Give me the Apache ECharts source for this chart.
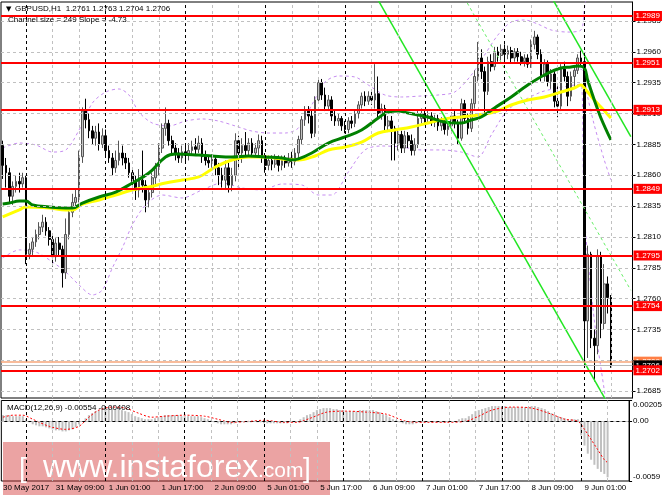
<!DOCTYPE html>
<html><head><meta charset="utf-8">
<script src="https://cdn.jsdelivr.net/npm/echarts@6.0.0/dist/echarts.min.js"></script>
<style>html,body{margin:0;padding:0;background:#fff}#c{width:665px;height:499px}</style>
</head><body><div id="c"></div>
<script>
// ---------- DATA ----------
const opens = [1.2884,1.2868,1.2862,1.2843,1.2851,1.2855,1.2853,1.2858,1.2796,1.2800,1.2806,1.2812,1.2818,1.2822,1.2815,1.2808,1.2794,1.2805,1.2800,1.2781,
1.2812,1.2830,1.2838,1.2842,1.2875,1.2912,1.2905,1.2896,1.2890,1.2895,1.2885,1.2892,1.2880,1.2874,1.2866,1.2872,1.2878,1.2874,1.2870,1.2862,
1.2855,1.2848,1.2856,1.2852,1.2840,1.2846,1.2858,1.2866,1.2882,1.2898,1.2902,1.2888,1.2882,1.2878,1.2874,1.2879,1.2876,1.2880,1.2883,1.2881,
1.2886,1.2875,1.2872,1.2870,1.2873,1.2866,1.2860,1.2856,1.2866,1.2852,1.2860,1.2888,1.2878,1.2884,1.2880,1.2886,1.2878,1.2882,1.2888,1.2874,
1.2868,1.2872,1.2869,1.2873,1.2868,1.2872,1.2870,1.2874,1.2871,1.2878,1.2889,1.2905,1.2912,1.2908,1.2894,1.2921,1.2935,1.2925,1.2916,1.2921,
1.2908,1.2904,1.2906,1.2900,1.2897,1.2904,1.2902,1.2910,1.2917,1.2924,1.2920,1.2924,1.2921,1.2926,1.2910,1.2914,1.2900,1.2904,1.2898,1.2886,
1.2893,1.2882,1.2892,1.2888,1.2880,1.2885,1.2906,1.2910,1.2906,1.2908,1.2903,1.2906,1.2900,1.2904,1.2897,1.2900,1.2908,1.2902,1.2890,1.2918,
1.2906,1.2898,1.2918,1.2940,1.2955,1.2944,1.2928,1.2952,1.2948,1.2960,1.2957,1.2962,1.2958,1.2961,1.2955,1.2960,1.2956,1.2952,1.2955,1.2950,
1.2966,1.2972,1.2958,1.2940,1.2950,1.2936,1.2942,1.2920,1.2916,1.2946,1.2940,1.2924,1.2940,1.2945,1.2955,1.2952,1.2742,1.2796,1.2728,1.2722,
1.2795,1.2740,1.2772,1.2761];
const highs = [1.2888,1.2874,1.2866,1.2855,1.2860,1.2862,1.2862,1.2860,1.2805,1.2810,1.2816,1.2822,1.2828,1.2826,1.2818,1.2812,1.2809,1.2810,1.2803,1.2825,
1.2835,1.2845,1.2849,1.2880,1.2915,1.2922,1.2910,1.2900,1.2900,1.2902,1.2898,1.2897,1.2884,1.2878,1.2880,1.2888,1.2884,1.2878,1.2874,1.2866,
1.2860,1.2865,1.2880,1.2856,1.2850,1.2862,1.2870,1.2886,1.2902,1.2915,1.2905,1.2892,1.2886,1.2882,1.2884,1.2884,1.2886,1.2888,1.2890,1.2892,
1.2890,1.2880,1.2876,1.2877,1.2876,1.2870,1.2866,1.2872,1.2870,1.2866,1.2894,1.2892,1.2890,1.2895,1.2890,1.2890,1.2886,1.2893,1.2892,1.2878,
1.2876,1.2876,1.2877,1.2876,1.2876,1.2876,1.2878,1.2879,1.2882,1.2892,1.2908,1.2916,1.2916,1.2913,1.2924,1.2939,1.2938,1.2931,1.2925,1.2924,
1.2912,1.2910,1.2908,1.2904,1.2907,1.2908,1.2913,1.2920,1.2927,1.2928,1.2928,1.2928,1.2950,1.2940,1.2918,1.2917,1.2908,1.2908,1.2900,1.2898,
1.2896,1.2896,1.2895,1.2893,1.2890,1.2912,1.2914,1.2913,1.2912,1.2911,1.2909,1.2909,1.2907,1.2907,1.2904,1.2911,1.2912,1.2905,1.2922,1.2921,
1.2910,1.2922,1.2945,1.2968,1.2962,1.2948,1.2956,1.2958,1.2964,1.2964,1.2966,1.2966,1.2965,1.2964,1.2963,1.2963,1.2960,1.2958,1.2958,1.2970,
1.2977,1.2974,1.2962,1.2954,1.2953,1.2946,1.2946,1.2932,1.2950,1.2952,1.2944,1.2944,1.2948,1.2958,1.2961,1.2956,1.2803,1.2798,1.2735,1.2800,
1.2798,1.2788,1.2778,1.2763];
const lows = [1.2857,1.2850,1.2838,1.2836,1.2846,1.2846,1.2850,1.2788,1.2792,1.2795,1.2802,1.2808,1.2814,1.2811,1.2803,1.2786,1.2790,1.2795,1.2769,1.2776,
1.2808,1.2826,1.2834,1.2838,1.2870,1.2898,1.2890,1.2885,1.2884,1.2880,1.2882,1.2875,1.2870,1.2860,1.2862,1.2868,1.2868,1.2865,1.2858,1.2848,
1.2840,1.2842,1.2846,1.2830,1.2834,1.2842,1.2852,1.2860,1.2878,1.2892,1.2884,1.2876,1.2872,1.2870,1.2870,1.2871,1.2872,1.2876,1.2877,1.2878,
1.2870,1.2868,1.2866,1.2866,1.2860,1.2852,1.2850,1.2848,1.2846,1.2847,1.2855,1.2866,1.2870,1.2876,1.2874,1.2874,1.2874,1.2876,1.2870,1.2862,
1.2864,1.2864,1.2866,1.2863,1.2864,1.2866,1.2867,1.2866,1.2868,1.2874,1.2885,1.2900,1.2902,1.2890,1.2891,1.2918,1.2921,1.2912,1.2912,1.2904,
1.2900,1.2900,1.2896,1.2894,1.2894,1.2898,1.2899,1.2906,1.2914,1.2916,1.2917,1.2917,1.2914,1.2905,1.2905,1.2896,1.2895,1.2872,1.2872,1.2880,
1.2878,1.2878,1.2882,1.2876,1.2876,1.2882,1.2902,1.2902,1.2902,1.2900,1.2899,1.2896,1.2896,1.2893,1.2892,1.2896,1.2898,1.2885,1.2888,1.2902,
1.2893,1.2895,1.2914,1.2936,1.2938,1.2908,1.2925,1.2944,1.2945,1.2952,1.2953,1.2954,1.2954,1.2951,1.2952,1.2952,1.2949,1.2948,1.2947,1.2947,
1.2962,1.2954,1.2936,1.2936,1.2932,1.2930,1.2915,1.2907,1.2912,1.2936,1.2916,1.2920,1.2930,1.2942,1.2948,1.2705,1.2712,1.2720,1.2693,1.2715,
1.2728,1.2735,1.2748,1.2704];
const closes = [1.2868,1.2862,1.2843,1.2851,1.2855,1.2853,1.2858,1.2796,1.2800,1.2806,1.2812,1.2818,1.2822,1.2815,1.2808,1.2794,1.2805,1.2800,1.2781,1.2812,
1.2830,1.2838,1.2842,1.2875,1.2912,1.2905,1.2896,1.2890,1.2895,1.2885,1.2892,1.2880,1.2874,1.2866,1.2872,1.2878,1.2874,1.2870,1.2862,1.2855,
1.2848,1.2856,1.2852,1.2840,1.2846,1.2858,1.2866,1.2882,1.2898,1.2902,1.2888,1.2882,1.2878,1.2874,1.2879,1.2876,1.2880,1.2883,1.2881,1.2886,
1.2875,1.2872,1.2870,1.2873,1.2866,1.2860,1.2856,1.2866,1.2852,1.2860,1.2888,1.2878,1.2884,1.2880,1.2886,1.2878,1.2882,1.2888,1.2874,1.2868,
1.2872,1.2869,1.2873,1.2868,1.2872,1.2870,1.2874,1.2871,1.2878,1.2889,1.2905,1.2912,1.2908,1.2894,1.2921,1.2935,1.2925,1.2916,1.2921,1.2908,
1.2904,1.2906,1.2900,1.2897,1.2904,1.2902,1.2910,1.2917,1.2924,1.2920,1.2924,1.2921,1.2926,1.2910,1.2914,1.2900,1.2904,1.2898,1.2886,1.2893,
1.2882,1.2892,1.2888,1.2880,1.2885,1.2906,1.2910,1.2906,1.2908,1.2903,1.2906,1.2900,1.2904,1.2897,1.2900,1.2908,1.2902,1.2890,1.2918,1.2906,
1.2898,1.2918,1.2940,1.2955,1.2944,1.2928,1.2952,1.2948,1.2960,1.2957,1.2962,1.2958,1.2961,1.2955,1.2960,1.2956,1.2952,1.2955,1.2950,1.2966,
1.2972,1.2958,1.2940,1.2950,1.2936,1.2942,1.2920,1.2916,1.2946,1.2940,1.2924,1.2940,1.2945,1.2955,1.2952,1.2742,1.2796,1.2728,1.2722,1.2795,
1.2740,1.2772,1.2761,1.2706];

// moving averages [bar, price]
const maGreen = [[0,1.28367],[2,1.28375],[5,1.28391],[7,1.28391],[9,1.28359],[14,1.28343],[19,1.28335],[21,1.28335],[24,1.28375],[29,1.28424],
[34,1.28464],[39,1.28537],[44,1.28618],[49,1.28748],[52,1.28772],[59,1.28764],[63,1.28756],[69,1.28748],[74,1.28756],[79,1.28748],[84,1.28740],
[87,1.28724],[89,1.28732],[93,1.28780],[98,1.28861],[103,1.28910],[108,1.28967],[113,1.29064],[116,1.29112],[119,1.29120],[122,1.29104],
[125,1.29088],[128,1.29072],[133,1.29031],[138,1.29023],[141,1.29048],[144,1.29072],[148,1.29145],[153,1.29234],[158,1.29331],[163,1.29412],
[168,1.29469],[171,1.29477],[173,1.29485],[175,1.29469],[176,1.29372],[178,1.29210],[180,1.29064],[183,1.28886]];
const maYellow = [[0,1.28262],[5,1.28319],[7,1.28343],[14,1.28335],[19,1.28319],[21,1.28319],[24,1.28367],[29,1.28400],[34,1.28440],[39,1.28481],
[44,1.28505],[49,1.28537],[54,1.28562],[59,1.28586],[64,1.28667],[69,1.28724],[74,1.28748],[79,1.28748],[84,1.28732],[89,1.28724],[94,1.28756],
[98,1.28805],[103,1.28829],[108,1.28869],[113,1.28942],[118,1.28967],[123,1.28991],[128,1.29023],[133,1.29056],[138,1.29072],[143,1.29088],
[148,1.29112],[153,1.29169],[158,1.29210],[163,1.29234],[168,1.29274],[172,1.29307],[174,1.29331],[175,1.29307],[178,1.29210],[180,1.29153],[183,1.29064]];
// Bollinger bands [bar, price]
const bbUpper = [[0,1.28821],[5,1.28861],[10,1.28845],[15,1.28788],[19,1.28805],[23,1.28967],[27,1.29185],[31,1.29274],[35,1.29299],[38,1.29250],
[41,1.29112],[45,1.29023],[50,1.28999],[55,1.29039],[60,1.29056],[65,1.29039],[70,1.28999],[75,1.28958],[80,1.28942],[85,1.28942],[89,1.28983],
[93,1.29169],[97,1.29355],[101,1.29404],[106,1.29396],[110,1.29331],[115,1.29250],[120,1.29234],[126,1.29242],[131,1.29250],[136,1.29274],
[141,1.29412],[145,1.29574],[149,1.29736],[153,1.29841],[157,1.29858],[161,1.29825],[165,1.29777],[170,1.29760],[174,1.29777],[175,1.29950],[176,1.30100]];
const bbLower = [[0,1.27930],[5,1.27995],[10,1.27978],[15,1.27897],[19,1.27816],[23,1.27711],[27,1.27630],[30,1.27671],[33,1.27849],[36,1.28011],
[39,1.28197],[43,1.28359],[48,1.28440],[54,1.28416],[60,1.28481],[66,1.28537],[72,1.28497],[78,1.28481],[84,1.28529],[90,1.28521],[95,1.28440],
[99,1.28440],[104,1.28626],[109,1.28805],[114,1.28837],[120,1.28829],[126,1.28805],[132,1.28805],[138,1.28788],[143,1.28748],[147,1.28926],
[152,1.29129],[157,1.29210],[162,1.29274],[167,1.29307],[172,1.29331],[174,1.29339],[175,1.28294],[178,1.27428],[181,1.26861],[183,1.26500]];
const bbMiddle = [[172,1.29450],[174,1.29460],[176,1.29234],[178,1.29007],[181,1.28724],[183,1.28562]];
// regression channel: [startBar, startPrice, endBar, endPrice]
const channelUpper = [165, 1.30048, 189, 1.28913];
const channelMiddle = [138, 1.30080, 189, 1.27668];
const channelLower = [112, 1.30065, 189, 1.26423];
// horizontal levels
const redLevels = [1.2989, 1.2951, 1.2913, 1.2849, 1.2795, 1.2754, 1.2702];
const orangeLevel = [1.2709];
const bidLevel = [1.2706];
// MACD
const macdHist = [0.0006,0.0006,0.0006,0.0005,0.0005,0.0005,0.0005,0.0002,-0.0001,-0.0003,-0.0004,-0.0005,-0.0005,
-0.0006,-0.0007,-0.0008,-0.0009,-0.0009,-0.0010,-0.0010,-0.0009,-0.0008,-0.0006,-0.0003,0.0000,
0.0003,0.0006,0.0008,0.0010,0.0011,0.0012,0.0013,0.0013,0.0013,0.0012,0.0012,0.0011,0.0010,0.0009,
0.0007,0.0005,0.0004,0.0003,0.0002,0.0002,0.0002,0.0003,
0.0004,0.0005,0.0006,0.0006,0.0006,0.0006,0.0006,0.0005,0.0005,0.0005,0.0005,0.0005,0.0005,0.0004,0.0003,0.0002,0.0001,
-0.0001,-0.0002,-0.0003,-0.0003,-0.0003,-0.0003,-0.0002,-0.0001,-0.0001,
-0.0001,-0.0001,-0.0001,0.0000,-0.0001,-0.0001,-0.0002,-0.0002,-0.0002,-0.0002,-0.0002,-0.0002,-0.0002,-0.0002,-0.0001,-0.0001,0.0000,
0.0002,0.0004,0.0006,0.0007,0.0009,0.0011,
0.0012,0.0013,0.0013,0.0013,0.0012,0.0012,0.0011,0.0011,0.0010,0.0010,
0.0010,0.0010,0.0011,0.0011,0.0011,0.0011,0.0011,
0.0010,0.0009,0.0007,0.0006,0.0004,0.0002,
0.0001,-0.0001,-0.0002,-0.0003,-0.0003,-0.0003,-0.0002,-0.0001,
-0.0001,-0.0001,-0.0001,-0.0001,-0.0001,-0.0001,-0.0001,-0.0001,0.0000,0.0000,0.0000,
0.0002,0.0003,0.0003,0.0005,0.0007,0.0010,0.0011,0.0012,0.0013,
0.0014,0.0015,0.0015,0.0015,0.0015,0.0015,0.0014,0.0014,0.0014,0.0014,0.0014,0.0014,0.0014,0.0015,
0.0015,0.0014,0.0013,0.0012,0.0010,0.0008,0.0006,0.0005,0.0004,0.0003,0.0002,0.0002,0.0002,0.0002,
-0.0014,-0.0024,-0.0032,-0.0038,-0.0043,-0.0047,-0.0050,-0.0052,-0.00554];
const macdSignal = [[0,0.0004],[3,0.0006],[6,0.0006],[9,0.0002],[14,-0.0005],[19,-0.0008],[23,-0.0005],[26,0.0004],[29,0.0011],[33,0.0014],
[37,0.0013],[41,0.0008],[45,0.0004],[49,0.0005],[55,0.0006],[61,0.0005],[65,0.0002],[69,-0.0001],[75,0.0000],[79,0.0001],[85,-0.0001],
[89,-0.0001],[93,0.0003],[98,0.0009],[104,0.0010],[110,0.0009],[116,0.0007],[122,0.0000],[128,-0.0001],[134,-0.0001],[140,0.0000],
[144,0.0005],[148,0.0011],[154,0.0014],[160,0.0013],[166,0.0007],[170,0.0002],[174,0.0000],[176,-0.0008],[178,-0.0018],[180,-0.0028],
[182,-0.0038],[183,-0.00408]];
// axis ticks / labels
const priceTicks = [1.2685,1.2710,1.2735,1.2760,1.2785,1.2810,1.2835,1.2860,1.2885,1.2910,1.2935,1.2960,1.2985];
const macdTicks = [-0.0059, 0, 0.00205];
const macdTickLabels = ['-0.0059', '0.00', '0.00205'];
const xTickLabels = ['30 May 2017','31 May 09:00','1 Jun 01:00','1 Jun 17:00','2 Jun 09:00','5 Jun 01:00','5 Jun 17:00',
'6 Jun 09:00','7 Jun 01:00','7 Jun 17:00','8 Jun 09:00','9 Jun 01:00'];
const daySeparators = [7,31,55,79,103,127,151,175];
const SLOTS = 190;

// ---------- CHART ----------
const FONT = 'Liberation Sans';
const categories = Array.from({length: SLOTS}, (_, i) => String(i));
const candleData = opens.map((o, i) => [o, closes[i], lows[i], highs[i]]);
const vGridBars = [];
for (let i = 7; i < SLOTS; i += 8) if (!daySeparators.includes(i)) vGridBars.push(i);

const grayDash = {color: '#c0c0c0', type: [3, 3], width: 1};
const blackDash = {color: '#000000', type: [3, 3], width: 1};
function vLines() {
  return vGridBars.map(i => ({xAxis: i, lineStyle: grayDash}))
    .concat(daySeparators.map(i => ({xAxis: i, lineStyle: blackDash})));
}
function seg(c) { return [[c[0], c[1]], [c[2], c[3]]]; }
function levelSeries(vals, z, lineColor, lineWidth, bg) {
  return {
    type: 'line', xAxisIndex: 0, yAxisIndex: 0, data: [], z: z, silent: true,
    markLine: {
      silent: true, symbol: ['none', 'none'], animation: false, precision: 6,
      lineStyle: {color: lineColor, width: lineWidth, type: 'solid'},
      label: {show: true, position: 'end', distance: 1, formatter: p => Number(p.value).toFixed(4),
        color: '#fff', backgroundColor: bg, fontSize: 8, fontFamily: FONT, padding: [1, 2, 0, 2], lineHeight: 9},
      emphasis: {disabled: true},
      data: vals.map(v => ({yAxis: v}))
    }
  };
}

const option = {
  animation: false,
  grid: [
    {left: 1, top: 2, width: 631.5, height: 396, show: true, borderColor: '#000', borderWidth: 1, backgroundColor: 'transparent'},
    {left: 1, top: 400.5, width: 631.5, height: 80.5, show: true, borderColor: '#000', borderWidth: 1, backgroundColor: 'transparent'}
  ],
  xAxis: [
    {type: 'category', gridIndex: 0, data: categories, boundaryGap: true,
      axisLine: {show: false}, axisTick: {show: false}, axisLabel: {show: false}, splitLine: {show: false}},
    {type: 'category', gridIndex: 1, data: categories, boundaryGap: true, z: 3,
      axisLine: {show: true, lineStyle: {color: '#000'}}, axisTick: {show: false}, splitLine: {show: false},
      axisLabel: {show: true, interval: 15, align: 'left', margin: 3, color: '#000', fontSize: 8, fontFamily: FONT,
        formatter: (v, idx) => (idx % 16 === 0 && xTickLabels[idx / 16]) ? xTickLabels[idx / 16] : ''}}
  ],
  yAxis: [
    {type: 'value', gridIndex: 0, position: 'right', min: 1.267956, max: 1.300034,
      axisLine: {show: true, lineStyle: {color: '#000'}},
      axisTick: {show: true, length: 3, customValues: priceTicks, lineStyle: {color: '#000'}},
      axisLabel: {show: true, customValues: priceTicks, margin: 4, color: '#000', fontSize: 8, fontFamily: FONT,
        formatter: v => v.toFixed(4)},
      splitLine: {show: false}},
    {type: 'value', gridIndex: 1, position: 'right', min: -0.0059, max: 0.00205,
      axisLine: {show: true, lineStyle: {color: '#000'}},
      axisTick: {show: true, length: 3, customValues: macdTicks, lineStyle: {color: '#000'}},
      axisLabel: {show: true, customValues: macdTicks, margin: 4, color: '#000', fontSize: 8, fontFamily: FONT,
        verticalAlignMinLabel: 'bottom', verticalAlignMaxLabel: 'top',
        formatter: v => { const k = macdTicks.findIndex(t => Math.abs(t - v) < 1e-9); return k >= 0 ? macdTickLabels[k] : ''; }},
      splitLine: {show: false}}
  ],
  series: [
    // grid lines (main)
    {type: 'line', xAxisIndex: 0, yAxisIndex: 0, data: [], z: 1, silent: true,
      markLine: {silent: true, symbol: ['none', 'none'], animation: false, precision: 6, label: {show: false}, emphasis: {disabled: true},
        data: priceTicks.map(v => ({yAxis: v, lineStyle: grayDash})).concat(vLines())}},
    // grid lines (macd)
    {type: 'line', xAxisIndex: 1, yAxisIndex: 1, data: [], z: 1, silent: true,
      markLine: {silent: true, symbol: ['none', 'none'], animation: false, precision: 6, label: {show: false}, emphasis: {disabled: true},
        data: [{yAxis: 0, lineStyle: grayDash}].concat(vLines())}},
    // bollinger bands
    {type: 'line', xAxisIndex: 0, yAxisIndex: 0, data: bbUpper, z: 2, symbol: 'none', smooth: 0.3, silent: true,
      lineStyle: {color: '#c58cf0', width: 1, type: [3, 3]}},
    {type: 'line', xAxisIndex: 0, yAxisIndex: 0, data: bbLower, z: 2, symbol: 'none', smooth: 0.3, silent: true,
      lineStyle: {color: '#c58cf0', width: 1, type: [3, 3]}},
    {type: 'line', xAxisIndex: 0, yAxisIndex: 0, data: bbMiddle, z: 2, symbol: 'none', smooth: 0.3, silent: true,
      lineStyle: {color: '#c58cf0', width: 1, type: [3, 3]}},
    // candles
    {type: 'candlestick', xAxisIndex: 0, yAxisIndex: 0, data: candleData, z: 3, barWidth: 2.2, silent: true,
      itemStyle: {color: '#c4c4c4', borderColor: '#555555', color0: '#000000', borderColor0: '#000000', borderWidth: 1}},
    // moving averages
    {type: 'line', xAxisIndex: 0, yAxisIndex: 0, data: maYellow, z: 4, symbol: 'none', smooth: 0.4, silent: true,
      lineStyle: {color: '#ffff00', width: 3}},
    {type: 'line', xAxisIndex: 0, yAxisIndex: 0, data: maGreen, z: 4, symbol: 'none', smooth: 0.4, silent: true,
      lineStyle: {color: '#008000', width: 3}},
    // channel
    {type: 'line', xAxisIndex: 0, yAxisIndex: 0, data: seg(channelUpper), z: 4, symbol: 'none', silent: true, clip: true,
      lineStyle: {color: '#22e622', width: 1.5}},
    {type: 'line', xAxisIndex: 0, yAxisIndex: 0, data: seg(channelLower), z: 4, symbol: 'none', silent: true, clip: true,
      lineStyle: {color: '#22e622', width: 1.5}},
    {type: 'line', xAxisIndex: 0, yAxisIndex: 0, data: seg(channelMiddle), z: 4, symbol: 'none', silent: true, clip: true,
      lineStyle: {color: '#66ee66', width: 1, type: [3, 3]}},
    // levels
    levelSeries(orangeLevel, 5, '#f6a67a', 1.5, '#ff7f45'),
    levelSeries(bidLevel, 6, '#b8b8b8', 1, '#000000'),
    levelSeries(redLevels, 7, '#ff0000', 2, '#ff0000'),
    // macd
    {type: 'bar', xAxisIndex: 1, yAxisIndex: 1, data: macdHist, z: 2, barWidth: 2, silent: true,
      itemStyle: {color: '#c0c0c0'}},
    {type: 'line', xAxisIndex: 1, yAxisIndex: 1, data: macdSignal, z: 3, symbol: 'none', smooth: 0.3, silent: true,
      lineStyle: {color: '#ff0000', width: 1, type: [2, 2]}}
  ],
  graphic: [
    {type: 'text', x: 6, y: 9, z: 10, style: {text: '\u25BC', font: '7px "DejaVu Sans"', fill: '#000', verticalAlign: 'middle', textVerticalAlign: 'middle'}},
    {type: 'text', x: 15, y: 9, z: 10, style: {text: 'GBPUSD,H1  1.2761 1.2763 1.2704 1.2706', font: '8px "' + FONT + '"', fill: '#000', verticalAlign: 'middle', textVerticalAlign: 'middle'}},
    {type: 'text', x: 8, y: 20, z: 10, style: {text: 'Channel size = 249 Slope = -4.73', font: '8px "' + FONT + '"', fill: '#000', verticalAlign: 'middle', textVerticalAlign: 'middle'}},
    {type: 'text', x: 7, y: 408, z: 10, style: {text: 'MACD(12,26,9) -0.00554 -0.00408', font: '8px "' + FONT + '"', fill: '#000', verticalAlign: 'middle', textVerticalAlign: 'middle'}},
    {type: 'rect', z: 1, shape: {x: 3, y: 442, width: 327, height: 53}, style: {fill: 'rgba(210,50,50,0.45)'}},
    {type: 'text', x: 19, y: 469, z: 2, style: {text: '[', font: '28px "' + FONT + '"', fill: '#ffffff', verticalAlign: 'middle', textVerticalAlign: 'middle'}},
    {type: 'text', x: 43, y: 468, z: 2, style: {text: 'www.instaforex', font: '32px "' + FONT + '"', fill: '#ffffff', verticalAlign: 'middle', textVerticalAlign: 'middle'}},
    {type: 'text', x: 258, y: 471, z: 2, style: {text: '.com', font: '21px "' + FONT + '"', fill: '#ffffff', verticalAlign: 'middle', textVerticalAlign: 'middle'}},
    {type: 'text', x: 303, y: 469, z: 2, style: {text: ']', font: '28px "' + FONT + '"', fill: '#ffffff', verticalAlign: 'middle', textVerticalAlign: 'middle'}}
  ]
};
const chart = echarts.init(document.getElementById('c'), null, {renderer: 'canvas', width: 665, height: 499});
chart.setOption(option);
</script>
</body></html>
